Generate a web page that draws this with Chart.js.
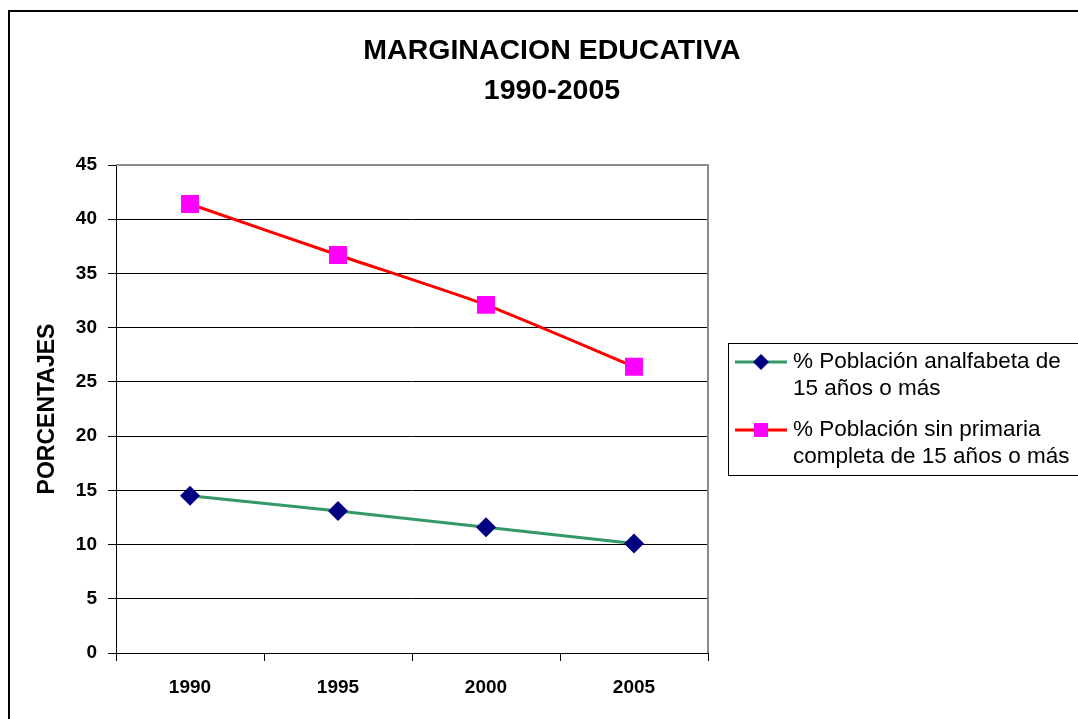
<!DOCTYPE html>
<html lang="es">
<head>
    <meta charset="UTF-8">
    <title>Marginacion educativa</title>
    <style>
        body { margin: 0; padding: 0; background: #fff; }
        #wrap { width: 1078px; height: 719px; }
    </style>
</head>
<body>
    <div id="wrap"><canvas id="grafico" width="1078" height="719"></canvas></div>

    <script src="https://cdn.jsdelivr.net/npm/chart.js"></script>
    <script>
        var anios = ['1990', '1995', '2000', '2005'];
        var analfabeta = [14.5, 13.1, 11.6, 10.1];
        var sinPrimaria = [41.4, 36.7, 32.1, 26.4];
        var tituloLineas = ['MARGINACION EDUCATIVA', '1990-2005'];
        var leyendaAnalfabeta = ['% Población analfabeta de', '15 años o más'];
        var leyendaPrimaria = ['% Población sin primaria', 'completa de 15 años o más'];

        var fuente = "'Liberation Sans', Arial, sans-serif";

        // marco, titulo, borde del area y leyenda al estilo Excel
        var decorado = {
            id: 'decorado',
            beforeDraw: function(chart) {
                var ctx = chart.ctx;
                ctx.save();
                ctx.fillStyle = '#fff';
                ctx.fillRect(0, 0, chart.width, chart.height);
                ctx.restore();
            },
            afterDraw: function(chart) {
                var ctx = chart.ctx;
                var a = chart.chartArea;
                ctx.save();

                // marco exterior
                ctx.strokeStyle = '#000';
                ctx.lineWidth = 2;
                ctx.beginPath();
                ctx.moveTo(9, chart.height + 5);
                ctx.lineTo(9, 11);
                ctx.lineTo(chart.width + 5, 11);
                ctx.stroke();

                // borde superior y derecho del area de trazado
                ctx.strokeStyle = '#8c8c8c';
                ctx.lineWidth = 2;
                ctx.beginPath();
                ctx.moveTo(a.left, a.top);
                ctx.lineTo(a.right, a.top);
                ctx.lineTo(a.right, a.bottom);
                ctx.stroke();

                // titulo
                ctx.fillStyle = '#000';
                ctx.font = 'bold 28.5px ' + fuente;
                ctx.textAlign = 'center';
                ctx.textBaseline = 'middle';
                ctx.fillText(tituloLineas[0], 552, 51);
                ctx.fillText(tituloLineas[1], 552, 91);

                // leyenda
                ctx.strokeStyle = '#000';
                ctx.lineWidth = 1;
                ctx.strokeRect(728.5, 343.5, 400, 132);
                var items = [
                    { ds: chart.data.datasets[0], textos: leyendaAnalfabeta, y: 362 },
                    { ds: chart.data.datasets[1], textos: leyendaPrimaria, y: 430 }
                ];
                items.forEach(function(it) {
                    ctx.strokeStyle = it.ds.borderColor;
                    ctx.lineWidth = 3;
                    ctx.beginPath();
                    ctx.moveTo(735, it.y);
                    ctx.lineTo(787, it.y);
                    ctx.stroke();
                    ctx.fillStyle = it.ds.pointBackgroundColor;
                    ctx.beginPath();
                    if (it.ds.pointStyle === 'rect') {
                        ctx.rect(761 - 7, it.y - 7, 14, 14);
                    } else {
                        ctx.moveTo(761, it.y - 8);
                        ctx.lineTo(769, it.y);
                        ctx.lineTo(761, it.y + 8);
                        ctx.lineTo(753, it.y);
                        ctx.closePath();
                    }
                    ctx.fill();
                    ctx.fillStyle = '#000';
                    ctx.font = '22.5px ' + fuente;
                    ctx.textAlign = 'left';
                    ctx.textBaseline = 'middle';
                    ctx.fillText(it.textos[0], 793, it.y);
                    ctx.fillText(it.textos[1], 793, it.y + 27);
                });

                ctx.restore();
            }
        };

        var ctxGrafico = document.getElementById('grafico').getContext('2d');
        var grafico = new Chart(ctxGrafico, {
            type: 'line',
            data: {
                labels: anios,
                datasets: [{
                    label: leyendaAnalfabeta.join(' '),
                    data: analfabeta,
                    borderColor: '#339966',
                    borderWidth: 3,
                    pointStyle: 'rectRot',
                    pointRadius: 10,
                    pointBackgroundColor: '#000080',
                    pointBorderColor: '#000080',
                    pointBorderWidth: 0,
                    tension: 0
                }, {
                    label: leyendaPrimaria.join(' '),
                    data: sinPrimaria,
                    borderColor: '#ff0000',
                    borderWidth: 3,
                    pointStyle: 'rect',
                    pointRadius: 12.7,
                    pointBackgroundColor: '#ff00ff',
                    pointBorderColor: '#ff00ff',
                    pointBorderWidth: 0,
                    tension: 0.2
                }]
            },
            options: {
                responsive: false,
                animation: false,
                layout: {
                    padding: { left: 0, right: 370, top: 165, bottom: 0 }
                },
                plugins: {
                    legend: { display: false },
                    title: { display: false },
                    tooltip: { enabled: false }
                },
                scales: {
                    x: {
                        offset: true,
                        afterFit: function(scale) { scale.height = 719 - 653; },
                        grid: {
                            offset: true,
                            drawOnChartArea: false,
                            drawTicks: true,
                            tickLength: 8,
                            color: '#000'
                        },
                        border: { color: '#000', width: 1 },
                        ticks: {
                            color: '#000',
                            padding: 15,
                            font: { family: fuente, size: 19, weight: 'bold' }
                        }
                    },
                    y: {
                        min: 0,
                        max: 45,
                        afterFit: function(scale) { scale.width = 116; },
                        ticks: {
                            stepSize: 5,
                            color: '#000',
                            padding: 11,
                            font: { family: fuente, size: 19, weight: 'bold' }
                        },
                        grid: {
                            color: '#000',
                            lineWidth: 1,
                            tickLength: 8,
                            tickColor: '#000'
                        },
                        border: { color: '#000', width: 1 },
                        title: {
                            display: true,
                            text: 'PORCENTAJES',
                            color: '#000',
                            padding: { top: 34, bottom: 0 },
                            font: { family: fuente, size: 23, weight: 'bold' }
                        }
                    }
                }
            },
            plugins: [decorado]
        });
    </script>
</body>
</html>
